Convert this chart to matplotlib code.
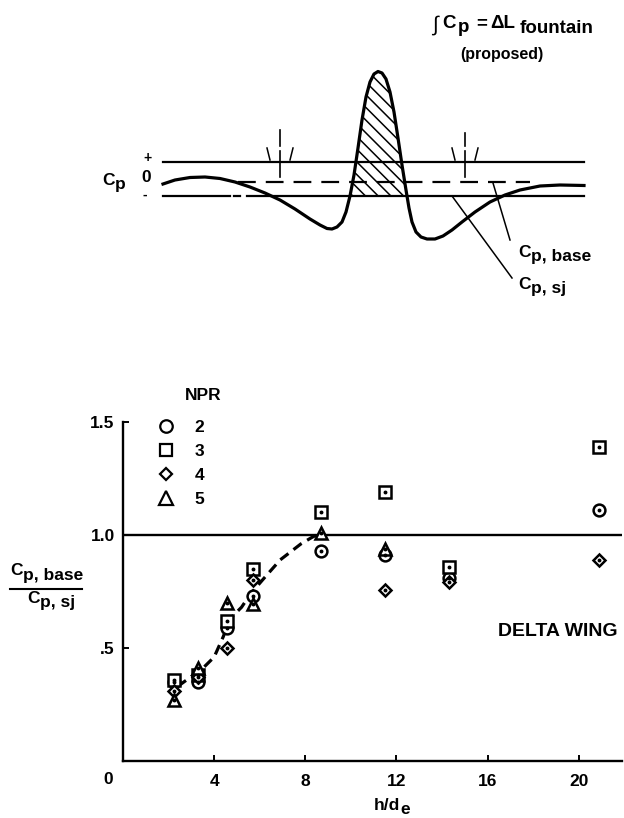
import numpy as np
import matplotlib
matplotlib.use("Agg")
import matplotlib.pyplot as plt
from matplotlib.lines import Line2D
from matplotlib.patches import Polygon

plt.rcParams['font.family'] = ['Liberation Sans', 'DejaVu Sans']

# ---------------- data (bottom chart) ----------------
npr_labels = ['2', '3', '4', '5']
x_npr2 = [2.24, 3.3, 4.56, 5.7, 8.7, 11.5, 14.3, 20.9]
y_npr2 = [0.35, 0.35, 0.59, 0.73, 0.93, 0.91, 0.81, 1.11]
x_npr3 = [2.24, 3.3, 4.56, 5.7, 8.7, 11.5, 14.3, 20.9]
y_npr3 = [0.36, 0.38, 0.62, 0.85, 1.10, 1.19, 0.86, 1.39]
x_npr4 = [2.24, 3.3, 4.56, 5.7, 11.5, 14.3, 20.9]
y_npr4 = [0.31, 0.37, 0.50, 0.80, 0.755, 0.79, 0.89]
x_npr5 = [2.24, 3.3, 4.56, 5.7, 8.7, 11.5]
y_npr5 = [0.27, 0.41, 0.70, 0.695, 1.01, 0.94]
fair_x = [2.4, 3.5, 4.0, 4.4, 4.7, 5.2, 5.6, 6.2, 6.9, 7.8, 8.3, 8.7]
fair_y = [0.33, 0.41, 0.46, 0.55, 0.63, 0.68, 0.74, 0.81, 0.89, 0.96, 0.99, 1.01]
x_ticks = [4, 8, 12, 16, 20]
y_ticks = [0.5, 1.0, 1.5]
y_ticklabels = ['.5', '1.0', '1.5']

# ---------------- schematic (top sketch, pixel units) ----------------
cp_curve_x = [163, 175, 190, 205, 220, 235, 250, 265, 280, 295, 310, 320, 327, 332,
              337, 342, 346, 350, 354, 358, 362, 366, 370, 374, 378, 382, 386, 390,
              394, 398, 402, 406, 409, 412, 416, 421, 427, 435, 443, 452, 462, 475,
              490, 505, 520, 540, 560, 584]
cp_curve_y = [184, 180, 177.5, 177, 178.5, 182, 187, 193, 200, 209, 219, 225, 228.5, 229,
              227, 222, 212, 196, 175, 148, 120, 97, 82, 74, 71.5, 73, 79, 92,
              112, 138, 165, 190, 208, 222, 232, 237, 239, 239, 236, 230, 222, 212,
              202, 195, 190, 186, 185, 185.5]
line_plus_y = 162
line_zero_y = 181.5
line_minus_y = 195.5

FS = 12.5
fig = plt.figure(figsize=(6.24, 8.18), dpi=100)

# ---------------- bottom chart ----------------
ax = fig.add_axes([123 / 624, (818 - 761) / 818, (622 - 123) / 624, (761 - 422) / 818])
ax.set_xlim(0, 21.9)
ax.set_ylim(0, 1.5)
for s in ['top', 'right']:
    ax.spines[s].set_visible(False)
for s in ['left', 'bottom']:
    ax.spines[s].set_linewidth(1.7)
ax.set_xticks(x_ticks)
ax.set_xticklabels([str(v) for v in x_ticks])
ax.set_yticks(y_ticks)
ax.set_yticklabels(y_ticklabels)
ax.tick_params(direction='in', length=4, width=1.4, labelsize=FS, pad=6)
ax.tick_params(axis='x', pad=9)
for lab in ax.get_xticklabels() + ax.get_yticklabels():
    lab.set_fontweight('bold')
ax.text(-0.66, -0.084, '0', ha='center', va='center', fontsize=FS,
        fontweight='bold', clip_on=False)

ax.axhline(1.0, color='k', lw=1.7)
ax.plot(fair_x, fair_y, color='k', lw=2.3, ls=(0, (3.2, 2.0)), dash_capstyle='butt')

mkw = dict(ls='none', mfc='white', mec='k', mew=1.8, clip_on=False, zorder=3)
series = [(x_npr2, y_npr2, 'o', 8.5), (x_npr3, y_npr3, 's', 8),
          (x_npr4, y_npr4, 'D', 6), (x_npr5, y_npr5, '^', 9)]
for xs, ys, m, ms in series:
    ax.plot(xs, ys, marker=m, ms=ms, **mkw)
for xs, ys, m, ms in series:
    ax.plot(xs, ys, ls='none', marker='o', ms=1.8, color='k', zorder=4, clip_on=False)

handles = [Line2D([], [], ls='none', marker=m, ms=ms + 0.5, mfc='none', mec='k', mew=1.6)
           for _, _, m, ms in series]

ov = fig.add_axes([0, 0, 1, 1])
ov.set_xlim(0, 624)
ov.set_ylim(818, 0)
ov.axis('off')

leg = ax.legend(handles, npr_labels, loc='upper left', bbox_to_anchor=(157, 420),
                bbox_transform=ov.transData, frameon=False, borderpad=0,
                borderaxespad=0, handlelength=1.0, handletextpad=1.15,
                labelspacing=0.5, prop=dict(weight='bold', size=FS))

ov.text(203, 396, 'NPR', ha='center', va='center', fontsize=FS, fontweight='bold')
ov.text(618, 632, 'DELTA WING', ha='right', va='center', fontsize=14, fontweight='bold')
hd = ov.text(374, 805, 'h/d', ha='left', va='center', fontsize=FS, fontweight='bold')

renderer = fig.canvas.get_renderer()


def sub_text(x, y, main, sub, drop, size=FS, weight='bold', gap=0.5):
    t = ov.text(x, y, main, ha='left', va='baseline', fontsize=size, fontweight=weight)
    bb = t.get_window_extent(renderer)
    t2 = ov.text(x + bb.width + gap, y + drop, sub, ha='left', va='baseline',
                 fontsize=size, fontweight='bold')
    return x + bb.width + gap + t2.get_window_extent(renderer).width


# h/d_e subscript
tb = hd.get_window_extent(renderer)
ov.text(374 + tb.width + 0.5, 810, 'e', ha='left', va='center', fontsize=FS, fontweight='bold')

# y-label fraction
sub_text(10, 575, 'C', 'p, base', 5)
ov.plot([10, 82], [589, 589], color='k', lw=1.5)
sub_text(27, 603, 'C', 'p, sj', 4)

# ---------------- top sketch ----------------
lw_l = 1.6
ov.plot([163, 584], [line_plus_y, line_plus_y], color='k', lw=lw_l)
ov.plot([238, 530], [line_zero_y, line_zero_y], color='k', lw=lw_l, ls=(0, (8, 4.5)))
ov.plot([163, 230], [line_minus_y, line_minus_y], color='k', lw=lw_l)
ov.plot([234, 240], [line_minus_y, line_minus_y], color='k', lw=lw_l)
ov.plot([247, 584], [line_minus_y, line_minus_y], color='k', lw=lw_l)
ov.plot(cp_curve_x, cp_curve_y, color='k', lw=2.3, solid_joinstyle='round')

# hatched fountain region between the curve and the lower line
cx = np.array(cp_curve_x, float)
cy = np.array(cp_curve_y, float)
sel = (cx > 345) & (cx < 410) & (cy < line_minus_y)
idx = np.where(sel)[0]
i0, i1 = idx[0], idx[-1]
xl = cx[i0 - 1] + (line_minus_y - cy[i0 - 1]) * (cx[i0] - cx[i0 - 1]) / (cy[i0] - cy[i0 - 1])
xr = cx[i1] + (line_minus_y - cy[i1]) * (cx[i1 + 1] - cx[i1]) / (cy[i1 + 1] - cy[i1])
poly_pts = [(xl, line_minus_y)] + list(zip(cx[idx], cy[idx])) + [(xr, line_minus_y)]
poly = Polygon(poly_pts, closed=True, facecolor='none', edgecolor='none')
ov.add_patch(poly)
for c in np.arange(-360, -130, 12.7):
    xs = np.array([330, 430])
    ln, = ov.plot(xs, xs + c, color='k', lw=1.1)
    ln.set_clip_path(poly)

# position markers (vertical dashed ticks with flares)
for mx, top in [(280, 130), (465, 133)]:
    ov.plot([mx, mx], [top, 146], color='k', lw=1.2)
    ov.plot([mx, mx], [151, 177], color='k', lw=1.2)
    ov.plot([mx - 13, mx - 10], [148, 160], color='k', lw=1.1)
    ov.plot([mx + 13, mx + 10], [148, 160], color='k', lw=1.1)

# leader lines
ov.plot([493, 510], [183, 240], color='k', lw=1.1)
ov.plot([452, 512], [196, 278], color='k', lw=1.1)

sub_text(518, 257, 'C', 'p, base', 4)
sub_text(518, 289, 'C', 'p, sj', 4)

sub_text(102, 185, 'C', 'p', 4)
ov.text(147, 158, '+', ha='center', va='center', fontsize=10, fontweight='bold')
ov.text(146, 178, '0', ha='center', va='center', fontsize=FS, fontweight='bold')
ov.text(145, 195, '-', ha='center', va='center', fontsize=10, fontweight='bold')

# title formula
TF = 13.5
ov.text(432, 31, '\u222b', ha='left', va='baseline', fontsize=15)
ov.text(442, 28, 'C', ha='left', va='baseline', fontsize=TF, fontweight='bold')
ov.text(458, 32, 'p', ha='left', va='baseline', fontsize=TF, fontweight='bold')
ov.text(476, 28, '=', ha='left', va='baseline', fontsize=TF, fontweight='bold')
ov.text(490, 28, '\u0394L', ha='left', va='baseline', fontsize=TF, fontweight='bold')
ov.text(520, 33, 'fountain', ha='left', va='baseline', fontsize=TF, fontweight='bold')
ov.text(502, 54, '(proposed)', ha='center', va='center', fontsize=11.5, fontweight='bold')

fig.savefig('out.png', dpi=100)
